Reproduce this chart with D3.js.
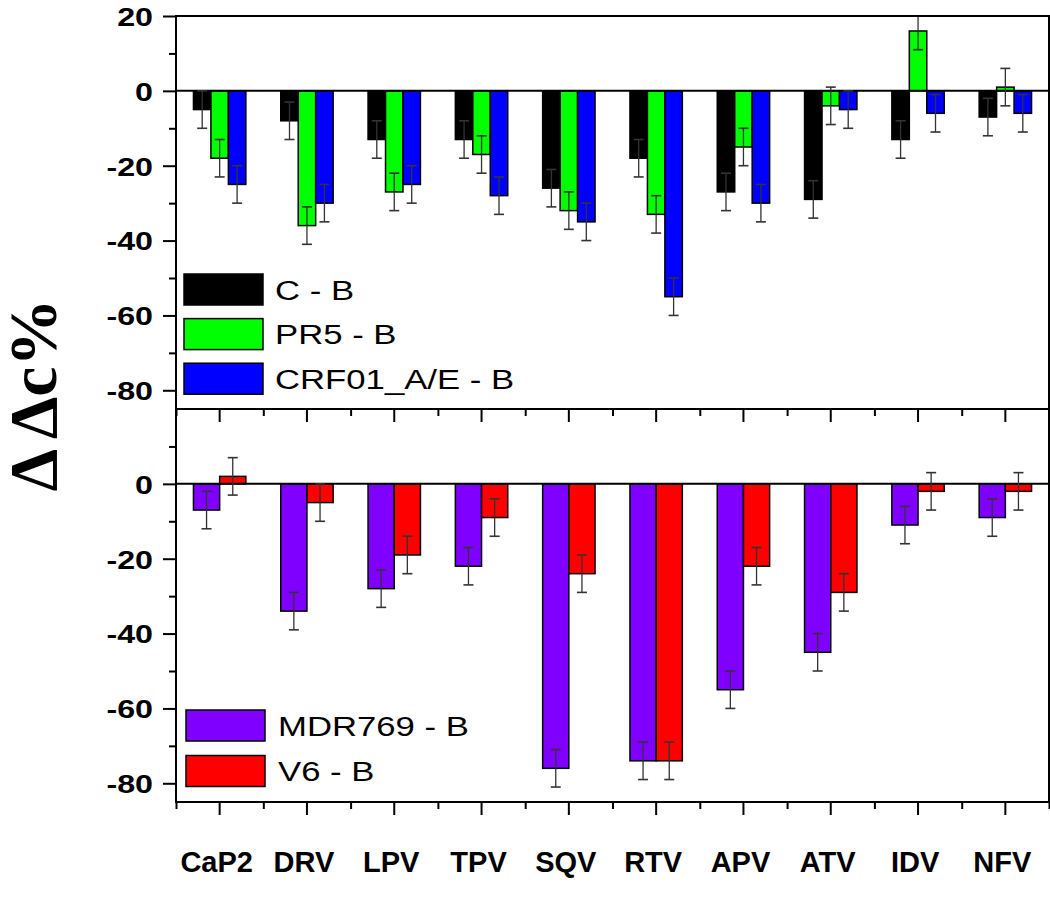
<!DOCTYPE html>
<html>
<head>
<meta charset="utf-8">
<script src="https://cdn.jsdelivr.net/npm/d3@7"></script>
<style>
  html, body { margin: 0; padding: 0; background: #fff; }
  svg { display: block; }
</style>
</head>
<body>
<svg id="chart" width="1050" height="913"></svg>
<script>
// ---------- DATA ----------
const categories = ["CaP2", "DRV", "LPV", "TPV", "SQV", "RTV", "APV", "ATV", "IDV", "NFV"];

const topSeriesNames = ["C - B", "PR5 - B", "CRF01_A/E - B"];
const cMinusB       = [-5, -8, -13, -13, -26, -18, -27, -29, -13, -7];
const pr5MinusB     = [-18, -36, -27, -17, -32, -33, -15, -4, 16, 1];
const crf01MinusB   = [-25, -30, -25, -28, -35, -55, -30, -5, -6, -6];
const cErr          = [5, 5, 5, 5, 5, 5, 5, 5, 5, 5];
const pr5Err        = [5, 5, 5, 5, 5, 5, 5, 5, 5, 5];
const crf01Err      = [5, 5, 5, 5, 5, 5, 5, 5, 5, 5];

const bottomSeriesNames = ["MDR769 - B", "V6 - B"];
const mdr769MinusB  = [-7, -34, -28, -22, -76, -74, -55, -45, -11, -9];
const v6MinusB      = [2, -5, -19, -9, -24, -74, -22, -29, -2, -2];
const mdr769Err     = [5, 5, 5, 5, 5, 5, 5, 5, 5, 5];
const v6Err         = [5, 5, 5, 5, 5, 5, 5, 5, 5, 5];

const yDomain = [-85, 20];
const topMajorTicks = [20, 0, -20, -40, -60, -80];
const bottomMajorTicks = [0, -20, -40, -60, -80];
const minorTicks = [10, -10, -30, -50, -70];
const yTitle = "\u0394 \u0394c%";

// ---------- STYLE ----------
const topColors = ["#000000", "#00ff00", "#0000ff"];
const bottomColors = ["#8000ff", "#ff0000"];
const sansFont = "'Liberation Sans', Arial, sans-serif";
const serifFont = "'Liberation Serif', 'Times New Roman', serif";
const stretch = 1.24; // reference text is horizontally stretched

const L = 176, R = 1049;
const topPanel = { y0: 16, y1: 409 };
const botPanel = { y0: 409, y1: 802 };

const svg = d3.select("#chart");

const x = d3.scaleBand().domain(categories).range([L, R]).paddingInner(0).paddingOuter(0);
const bw = x.bandwidth();
const xEdge = d3.scaleLinear().domain([0, categories.length]).range([L, R]);

function drawPanel(panel, seriesNames, values, errors, colors, majorTicks, clipId) {
  const y = d3.scaleLinear().domain(yDomain).range([panel.y1, panel.y0]);
  const sub = d3.scaleBand().domain(seriesNames).range([bw * 0.2, bw * 0.8]).padding(0);

  svg.append("clipPath").attr("id", clipId)
    .append("rect").attr("x", L).attr("y", panel.y0).attr("width", R - L).attr("height", panel.y1 - panel.y0);

  const g = svg.append("g").attr("clip-path", `url(#${clipId})`);

  seriesNames.forEach((name, si) => {
    const data = categories.map((c, i) => ({ c, v: values[si][i], e: errors[si][i] }));
    g.append("g").selectAll("rect").data(data).join("rect")
      .attr("x", d => x(d.c) + sub(name))
      .attr("width", sub.bandwidth())
      .attr("y", d => y(Math.max(0, d.v)))
      .attr("height", d => Math.abs(y(d.v) - y(0)))
      .attr("fill", colors[si])
      .attr("stroke", "#000")
      .attr("stroke-width", 1.5);
  });

  // zero line
  g.append("line").attr("x1", L).attr("x2", R).attr("y1", y(0)).attr("y2", y(0))
    .attr("stroke", "#000").attr("stroke-width", 2);

  // error bars
  seriesNames.forEach((name, si) => {
    const data = categories.map((c, i) => ({ c, v: values[si][i], e: errors[si][i] }));
    const eg = g.append("g").attr("stroke", "#333").attr("stroke-width", 1.3);
    data.forEach(d => {
      const cx = x(d.c) + sub(name) + sub.bandwidth() / 2;
      eg.append("line").attr("x1", cx).attr("x2", cx).attr("y1", y(d.v + d.e)).attr("y2", y(d.v - d.e));
      [d.v + d.e, d.v - d.e].forEach(t => {
        eg.append("line").attr("x1", cx - 5).attr("x2", cx + 5).attr("y1", y(t)).attr("y2", y(t)).attr("stroke-width", 1.6);
      });
    });
  });

  // y axis major
  const yMaj = svg.append("g").attr("transform", `translate(${L},0)`)
    .call(d3.axisLeft(y).tickValues(majorTicks).tickSize(13).tickPadding(10));
  yMaj.select(".domain").remove();
  yMaj.selectAll("line").attr("stroke", "#000").attr("stroke-width", 2);
  yMaj.selectAll("text")
    .attr("x", 0).attr("dy", "0.36em")
    .attr("transform", `translate(-23,0) scale(${stretch},1)`)
    .attr("font-family", sansFont).attr("font-size", 26).attr("font-weight", "bold").attr("fill", "#000")
    .attr("text-anchor", "end")
    .text(d => d < 0 ? "-" + Math.abs(d) : d);
  const yMin = svg.append("g").attr("transform", `translate(${L},0)`)
    .call(d3.axisLeft(y).tickValues(minorTicks).tickSize(7).tickFormat(""));
  yMin.select(".domain").remove();
  yMin.selectAll("line").attr("stroke", "#000").attr("stroke-width", 2);

  // frame
  svg.append("rect").attr("x", L).attr("y", panel.y0).attr("width", R - L).attr("height", panel.y1 - panel.y0)
    .attr("fill", "none").attr("stroke", "#000").attr("stroke-width", 2);
  return y;
}

drawPanel(topPanel, topSeriesNames, [cMinusB, pr5MinusB, crf01MinusB], [cErr, pr5Err, crf01Err], topColors, topMajorTicks, "clipTop");
drawPanel(botPanel, bottomSeriesNames, [mdr769MinusB, v6MinusB], [mdr769Err, v6Err], bottomColors, bottomMajorTicks, "clipBot");

// x ticks: inward at top of bottom panel, outward at its bottom
function xTickSet(yPos) {
  const major = svg.append("g").attr("transform", `translate(0,${yPos})`)
    .call(d3.axisBottom(x).tickSize(13).tickSizeOuter(0).tickFormat(""));
  major.select(".domain").remove();
  major.selectAll("line").attr("stroke", "#000").attr("stroke-width", 2);
  const minor = svg.append("g").attr("transform", `translate(0,${yPos})`)
    .call(d3.axisBottom(xEdge).tickValues(d3.range(categories.length + 1)).tickSize(7).tickFormat(""));
  minor.select(".domain").remove();
  minor.selectAll("line").attr("stroke", "#000").attr("stroke-width", 2);
}
xTickSet(botPanel.y0);
xTickSet(botPanel.y1);

// category labels
svg.append("g").selectAll("text").data(categories).join("text")
  .attr("x", c => x(c) + bw / 2 - 3)
  .attr("y", 872)
  .attr("text-anchor", "middle")
  .attr("font-family", sansFont).attr("font-size", 29).attr("font-weight", "bold").attr("fill", "#000")
  .text(c => c);

// legends
function legend(names, colors, bx, by0, step, tx) {
  const g = svg.append("g");
  names.forEach((n, i) => {
    const yy = by0 + i * step;
    g.append("rect").attr("x", bx).attr("y", yy).attr("width", 79).attr("height", 31)
      .attr("fill", colors[i]).attr("stroke", "#000").attr("stroke-width", 1.5);
    g.append("text").attr("transform", `translate(${tx},${yy + 15.5}) scale(${stretch},1)`).attr("dy", "0.36em")
      .attr("font-family", sansFont).attr("font-size", 28).attr("fill", "#000").text(n);
  });
}
legend(topSeriesNames, topColors, 184, 274, 44.6, 275);
legend(bottomSeriesNames, bottomColors, 186, 710, 45.5, 278);

// y title
svg.append("text")
  .attr("transform", "translate(56,395) rotate(-90)")
  .attr("text-anchor", "middle")
  .attr("font-family", serifFont).attr("font-weight", "bold").attr("font-size", 68).attr("fill", "#000")
  .text(yTitle);
</script>
</body>
</html>
